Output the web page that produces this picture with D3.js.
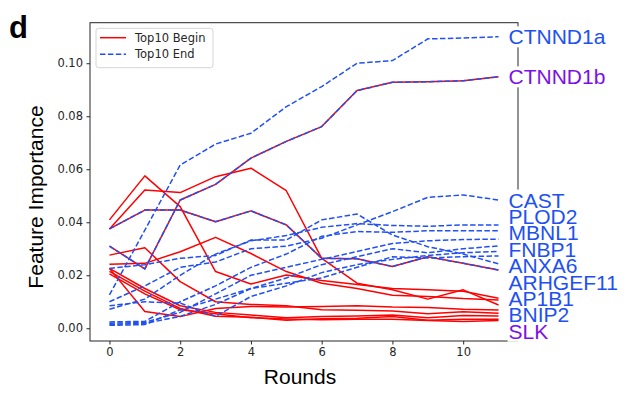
<!DOCTYPE html>
<html>
<head>
<meta charset="utf-8">
<script src="https://cdn.jsdelivr.net/npm/d3@7"></script>
<style>
  body { margin: 0; background: #fff; }
  svg { display: block; }
</style>
</head>
<body>
<svg id="chart"></svg>
<script>
// rounds on the x axis
const rounds = [0, 1, 2, 3, 4, 5, 6, 7, 8, 9, 10, 11];
const xTicks = [0, 2, 4, 6, 8, 10];
const yTicks = [0.00, 0.02, 0.04, 0.06, 0.08, 0.10];

// Top10 End features (blue dashed), values per round
const endNames = ["CTNND1a", "CTNND1b", "CAST", "PLOD2", "MBNL1", "FNBP1", "ANXA6", "ARHGEF11", "AP1B1", "BNIP2", "SLK"];
const endValues = [
  [0.0126, 0.0370, 0.0616, 0.0695, 0.0736, 0.0836, 0.0912, 0.1000, 0.1010, 0.1092, 0.1095, 0.1100],
  [0.0310, 0.0224, 0.0484, 0.0543, 0.0642, 0.0705, 0.0761, 0.0897, 0.0928, 0.0930, 0.0934, 0.0949],
  [0.0100, 0.0160, 0.0230, 0.0250, 0.0300, 0.0310, 0.0340, 0.0390, 0.0440, 0.0494, 0.0503, 0.0484],
  [0.0072, 0.0110, 0.0200, 0.0280, 0.0330, 0.0350, 0.0381, 0.0395, 0.0388, 0.0385, 0.0390, 0.0390],
  [0.0024, 0.0026, 0.0100, 0.0160, 0.0230, 0.0280, 0.0347, 0.0365, 0.0362, 0.0368, 0.0368, 0.0368],
  [0.0019, 0.0022, 0.0060, 0.0130, 0.0200, 0.0230, 0.0260, 0.0290, 0.0320, 0.0330, 0.0335, 0.0336],
  [0.0015, 0.0018, 0.0045, 0.0090, 0.0150, 0.0190, 0.0240, 0.0270, 0.0300, 0.0285, 0.0300, 0.0311],
  [0.0085, 0.0100, 0.0095, 0.0045, 0.0120, 0.0160, 0.0210, 0.0240, 0.0260, 0.0275, 0.0285, 0.0290],
  [0.0011, 0.0014, 0.0070, 0.0110, 0.0150, 0.0170, 0.0190, 0.0230, 0.0270, 0.0265, 0.0270, 0.0273],
  [0.0226, 0.0240, 0.0264, 0.0275, 0.0333, 0.0333, 0.0409, 0.0431, 0.0352, 0.0308, 0.0280, 0.0243],
  [0.0375, 0.0446, 0.0446, 0.0402, 0.0443, 0.0390, 0.0264, 0.0262, 0.0233, 0.0270, 0.0245, 0.0220]
];
// features that are in both top10 lists (purple labels)
const bothNames = ["CTNND1b", "SLK"];

// Top10 Begin features that dropped out (red solid)
const beginOnlyValues = [
  [0.0409, 0.0575, 0.0459, 0.0214, 0.0167, 0.0201, 0.0180, 0.0165, 0.0150, 0.0145, 0.0140, 0.0113],
  [0.0375, 0.0522, 0.0512, 0.0572, 0.0604, 0.0519, 0.0264, 0.0170, 0.0145, 0.0110, 0.0145, 0.0088],
  [0.0276, 0.0304, 0.0176, 0.0100, 0.0090, 0.0085, 0.0070, 0.0068, 0.0065, 0.0055, 0.0062, 0.0057],
  [0.0242, 0.0245, 0.0289, 0.0343, 0.0282, 0.0214, 0.0170, 0.0150, 0.0125, 0.0120, 0.0112, 0.0107],
  [0.0226, 0.0063, 0.0044, 0.0075, 0.0082, 0.0080, 0.0082, 0.0085, 0.0080, 0.0078, 0.0072, 0.0069],
  [0.0226, 0.0150, 0.0085, 0.0060, 0.0050, 0.0040, 0.0044, 0.0046, 0.0050, 0.0040, 0.0048, 0.0046],
  [0.0215, 0.0140, 0.0075, 0.0045, 0.0042, 0.0030, 0.0036, 0.0038, 0.0044, 0.0030, 0.0034, 0.0034],
  [0.0205, 0.0130, 0.0070, 0.0055, 0.0040, 0.0035, 0.0032, 0.0034, 0.0034, 0.0029, 0.0026, 0.0029]
];

const width = 628, height = 394;
const frame = { left: 90, right: 518, top: 22.7, bottom: 341 };
const red = "#ff0000", blue = "#2150f2", purple = "#7b10e8";
const tickFont = "DejaVu Sans, sans-serif";
const bigFont = "Liberation Sans, Arial, sans-serif";

const svg = d3.select("#chart").attr("width", width).attr("height", height);

const x = d3.scaleLinear().domain([-0.55, 11.55]).range([frame.left, frame.right]);
const y = d3.scaleLinear().domain([-0.0048, 0.1153]).range([frame.bottom, frame.top]);

const line = d3.line().x((d, i) => x(rounds[i])).y(d => y(d));

// spines
svg.append("rect")
  .attr("x", frame.left).attr("y", frame.top)
  .attr("width", frame.right - frame.left).attr("height", frame.bottom - frame.top)
  .attr("fill", "none").attr("stroke", "#262626").attr("stroke-width", 1);

// axes
const xAxis = svg.append("g")
  .attr("transform", `translate(0,${frame.bottom})`)
  .call(d3.axisBottom(x).tickValues(xTicks).tickSize(3.5).tickPadding(3.5).tickFormat(d3.format("d")));
const yAxis = svg.append("g")
  .attr("transform", `translate(${frame.left},0)`)
  .call(d3.axisLeft(y).tickValues(yTicks).tickSize(3.5).tickPadding(3.5).tickFormat(d3.format(".2f")));

[xAxis, yAxis].forEach(g => {
  g.select(".domain").remove();
  g.selectAll(".tick line").attr("stroke", "#262626");
  g.selectAll(".tick text")
    .attr("fill", "#262626")
    .style("font-family", tickFont)
    .style("font-size", "11.5px");
});

// begin lines (red) drawn first, end lines (blue dashed) on top
const beginValues = beginOnlyValues.concat(bothNames.map(n => endValues[endNames.indexOf(n)]));

svg.append("g").selectAll("path")
  .data(beginValues)
  .join("path")
  .attr("d", line)
  .attr("fill", "none")
  .attr("stroke", red)
  .attr("stroke-width", 1.5)
  .attr("stroke-linejoin", "round");

svg.append("g").selectAll("path")
  .data(endValues)
  .join("path")
  .attr("d", line)
  .attr("fill", "none")
  .attr("stroke", blue)
  .attr("stroke-width", 1.5)
  .attr("stroke-dasharray", "5.5,2.4");

// right labels, pushed apart when crowded
const gap = 16.4;
const last = rounds.length - 1;
const labels = endNames.map((name, i) => ({ name, v: endValues[i][last] }))
  .sort((a, b) => b.v - a.v);
labels.forEach((d, i) => {
  d.y = y(d.v);
  if (i > 0) {
    const prev = labels[i - 1].y;
    if (d.y - prev < gap * 2) d.y = prev + gap;
  }
});

// white boxes go in their own layer so they never hide a neighbour's text
const boxLayer = svg.append("g");
const textLayer = svg.append("g");

const labText = textLayer.selectAll("text")
  .data(labels)
  .join("text")
  .attr("x", x(rounds[last]) + 10)
  .attr("y", d => d.y)
  .attr("dy", "0.36em")
  .style("font-family", bigFont)
  .style("font-size", "21px")
  .attr("fill", d => bothNames.includes(d.name) ? purple : blue)
  .text(d => d.name);

labText.each(function () {
  const b = this.getBBox();
  boxLayer.append("rect")
    .attr("x", b.x - 1).attr("y", b.y + 1)
    .attr("width", b.width + 2).attr("height", b.height - 2)
    .attr("fill", "#fff");
});

// legend
const legend = svg.append("g");
legend.append("rect")
  .attr("x", 96).attr("y", 28.3).attr("width", 117).attr("height", 39.4)
  .attr("rx", 2.5)
  .attr("fill", "#fff").attr("fill-opacity", 0.8)
  .attr("stroke", "#d5d5d5").attr("stroke-width", 1);

const legendItems = [
  { label: "Top10 Begin", color: red, dash: null },
  { label: "Top10 End", color: blue, dash: "5.5,2.4" }
];
legendItems.forEach((d, i) => {
  const ly = 37.7 + i * 16.6;
  legend.append("line")
    .attr("x1", 100).attr("x2", 126).attr("y1", ly).attr("y2", ly)
    .attr("stroke", d.color).attr("stroke-width", 1.5)
    .attr("stroke-dasharray", d.dash);
  legend.append("text")
    .attr("x", 135).attr("y", ly).attr("dy", "0.36em")
    .attr("fill", "#262626")
    .style("font-family", tickFont).style("font-size", "11.5px")
    .text(d.label);
});

// axis titles
svg.append("text")
  .attr("x", 300).attr("y", 384)
  .attr("text-anchor", "middle")
  .style("font-family", bigFont).style("font-size", "21px")
  .text("Rounds");

svg.append("text")
  .attr("transform", "translate(43,197) rotate(-90)")
  .attr("text-anchor", "middle")
  .style("font-family", bigFont).style("font-size", "21px")
  .text("Feature Importance");

// panel letter
svg.append("text")
  .attr("x", 9).attr("y", 38)
  .style("font-family", bigFont).style("font-size", "31px").style("font-weight", "bold")
  .text("d");
</script>
</body>
</html>
